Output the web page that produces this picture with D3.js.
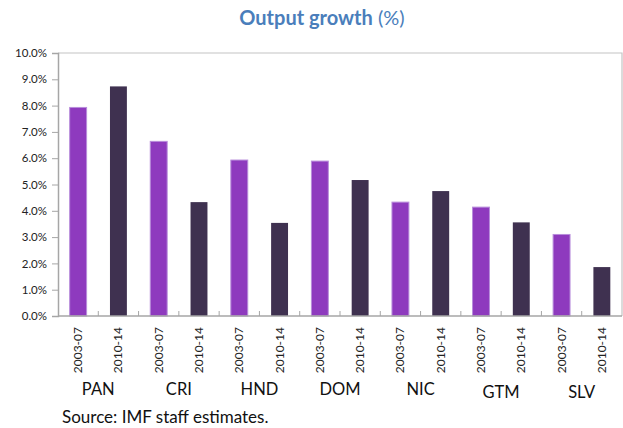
<!DOCTYPE html>
<html>
<head>
<meta charset="utf-8">
<script src="https://cdn.jsdelivr.net/npm/d3@7"></script>
<style>
  body { margin: 0; background: #fff; }
  text { font-family: Lato, "Open Sans", sans-serif; }
</style>
</head>
<body>
<div id="chart"></div>
<script>
var countries = ["PAN", "CRI", "HND", "DOM", "NIC", "GTM", "SLV"];
var periods = ["2003-07", "2010-14"];
var early = [7.93, 6.64, 5.93, 5.89, 4.33, 4.14, 3.1];
var late = [8.73, 4.33, 3.54, 5.17, 4.75, 3.56, 1.86];
var yTicks = [0, 1, 2, 3, 4, 5, 6, 7, 8, 9, 10];

var width = 623;
var height = 428;
var margin = {top: 53, right: 1, bottom: 112, left: 58};

var svg = d3.select("#chart")
    .append("svg")
    .attr("width", width)
    .attr("height", height);

var g = svg.append("g").attr("transform", "translate(" + margin.left + "," + margin.top + ")");

var w = width - margin.left - margin.right;
var h = height - margin.top - margin.bottom;

// one band per bar
var rows = [];
countries.forEach(function(c, i) {
  rows.push({key: c + "|" + periods[0], country: c, period: periods[0], value: early[i], s: 0});
  rows.push({key: c + "|" + periods[1], country: c, period: periods[1], value: late[i], s: 1});
});

var x = d3.scaleBand()
    .domain(rows.map(function(d) { return d.key; }))
    .range([0, w]);

var y = d3.scaleLinear()
    .domain([0, 10])
    .range([h, 0]);

var colors = ["#8e3abe", "#3f3150"];

// plot frame
g.append("path")
    .attr("d", "M0,0H" + w + "V" + h)
    .attr("fill", "none")
    .attr("stroke", "#c4c4c4")
    .attr("stroke-width", 1.2);

var bw = x.bandwidth() * 0.42;

g.selectAll(".bar")
    .data(rows)
    .enter().append("rect")
      .attr("class", "bar")
      .attr("x", function(d) { return x(d.key) + (x.bandwidth() - bw) / 2; })
      .attr("y", function(d) { return y(d.value); })
      .attr("width", bw)
      .attr("height", function(d) { return h - y(d.value); })
      .attr("fill", function(d) { return colors[d.s]; })
      .attr("stroke", function(d) { return d.s === 0 ? "#b88ddb" : "none"; })
      .attr("stroke-width", 1);

// y axis
var yAxis = g.append("g")
    .call(d3.axisLeft(y).tickValues(yTicks).tickSize(6).tickPadding(5)
      .tickFormat(function(d) { return d.toFixed(1) + "%"; }));
yAxis.select(".domain").attr("stroke", "#a6a6a6").attr("stroke-width", 1.5);
yAxis.selectAll(".tick line").attr("stroke", "#a6a6a6");
yAxis.selectAll(".tick text")
    .attr("fill", "#222")
    .style("font-size", "11.5px");

// x axis: small inward ticks at band boundaries
var xAxis = g.append("g").attr("transform", "translate(0," + h + ")");
xAxis.selectAll(".xt")
    .data(rows.slice(1))
    .enter().append("line")
      .attr("x1", function(d) { return x(d.key); })
      .attr("x2", function(d) { return x(d.key); })
      .attr("y1", 0)
      .attr("y2", -5)
      .attr("stroke", "#a6a6a6");
xAxis.append("line")
    .attr("x1", 0).attr("x2", w)
    .attr("stroke", "#a6a6a6")
    .attr("stroke-width", 1.5);

xAxis.selectAll(".xl")
    .data(rows)
    .enter().append("text")
      .attr("transform", function(d) {
        return "translate(" + (x(d.key) + x.bandwidth() / 2 + 4) + ",11) rotate(-90)";
      })
      .attr("text-anchor", "end")
      .attr("fill", "#222")
      .style("font-size", "12px")
      .text(function(d) { return d.period; });

// country labels under each pair
var countryDy = [79, 79, 79, 79, 79, 82, 82];
xAxis.selectAll(".cl")
    .data(countries)
    .enter().append("text")
      .attr("x", function(d, i) { return x(d + "|" + periods[1]); })
      .attr("y", function(d, i) { return countryDy[i]; })
      .attr("text-anchor", "middle")
      .attr("fill", "#111")
      .style("font-size", "16.5px")
      .text(function(d) { return d; });

// title
var title = svg.append("text")
    .attr("x", 322)
    .attr("y", 25)
    .attr("text-anchor", "middle")
    .attr("fill", "#4a7ebb")
    .style("font-size", "20px");
title.append("tspan").style("font-weight", "bold").text("Output growth");
title.append("tspan").text(" (%)");

// source
svg.append("text")
    .attr("x", 62)
    .attr("y", 423)
    .attr("fill", "#111")
    .style("font-size", "17px")
    .text("Source: IMF staff estimates.");
</script>
</body>
</html>
